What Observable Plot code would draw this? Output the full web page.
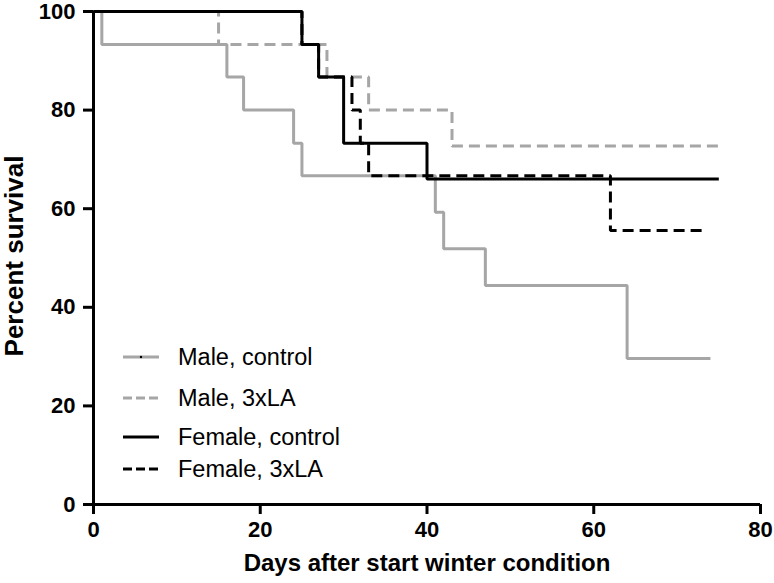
<!DOCTYPE html>
<html><head><meta charset="utf-8">
<script src="https://cdn.jsdelivr.net/npm/d3@7"></script>
<script src="https://cdn.jsdelivr.net/npm/@observablehq/plot@0.6"></script>
<style>
html,body{margin:0;padding:0;background:#fff;}
#chart{position:relative;width:774px;height:583px;}
#legend{position:absolute;left:0;top:0;pointer-events:none;}
</style></head><body><div id="chart"></div>
<script>
// Series definitions
const seriesNames = ["Male, control", "Male, 3xLA", "Female, control", "Female, 3xLA"];
const seriesColors = ["#a6a6a6", "#a6a6a6", "#000000", "#000000"];
const seriesDash = [null, "11,6", null, "11,6"];

// Kaplan-Meier steps (day, percent survival)
const maleControlDays = [0, 1, 16, 18, 24, 25, 41, 42, 47, 64, 74];
const maleControlSurv = [100, 93.3, 86.7, 80, 73.3, 66.7, 59.3, 51.9, 44.4, 29.6, 29.6];
const male3xLADays = [0, 15, 28, 33, 43, 75];
const male3xLASurv = [100, 93.3, 86.7, 80, 72.7, 72.7];
const femaleControlDays = [0, 25, 27, 30, 40, 75];
const femaleControlSurv = [100, 93.3, 86.7, 73.3, 66, 66];
const female3xLADays = [0, 25, 27, 31, 32, 33, 62, 73];
const female3xLASurv = [100, 93.3, 86.7, 80, 73.3, 66.7, 55.6, 55.6];

const xTicks = [0, 20, 40, 60, 80];
const yTicks = [0, 20, 40, 60, 80, 100];
const xTitle = "Days after start winter condition";
const yTitle = "Percent survival";

const allDays = [maleControlDays, male3xLADays, femaleControlDays, female3xLADays];
const allSurv = [maleControlSurv, male3xLASurv, femaleControlSurv, female3xLASurv];

const FONT = "'Liberation Sans', Arial, Helvetica, sans-serif";
const TICKFONT = "'Liberation Sans Narrow', 'Arial Narrow', 'Liberation Sans', Arial, sans-serif";

const lineMarks = seriesNames.map((name, i) => {
  const data = allDays[i].map((d, j) => ({series: name, day: d, surv: allSurv[i][j]}));
  return Plot.line(data, {
    x: "day", y: "surv", curve: "step-after",
    stroke: seriesColors[i], strokeWidth: 3,
    strokeDasharray: seriesDash[i] || undefined,
    strokeLinejoin: "miter", strokeLinecap: "butt"
  });
});

const chart = Plot.plot({
  width: 774, height: 583,
  marginLeft: 93, marginRight: 14, marginTop: 11, marginBottom: 79,
  x: {domain: [0, 80]},
  y: {domain: [0, 100]},
  style: {fontFamily: FONT, fontWeight: "bold", fontSize: "19px", color: "#000", background: "#fff", overflow: "visible"},
  marks: [
    ...lineMarks,
    Plot.ruleX([0], {strokeWidth: 3, stroke: "#000"}),
    Plot.ruleY([0], {strokeWidth: 3, stroke: "#000"}),
    Plot.axisX({ticks: xTicks, tickSize: 10, tickPadding: 7, fontSize: 22, fontWeight: "bold", strokeWidth: 3, label: null, fill: "#000"}),
    Plot.axisY({ticks: yTicks, tickSize: 10, tickPadding: 8, fontSize: 22, fontWeight: "bold", strokeWidth: 3, label: null, fill: "#000"}),
    Plot.text([xTitle], {text: d => d, frameAnchor: "bottom", textAnchor: "middle", lineAnchor: "middle", dy: 59, fontSize: 24, fontWeight: "bold", fill: "#000"}),
    Plot.text([yTitle], {text: d => d, frameAnchor: "left", textAnchor: "middle", lineAnchor: "middle", dx: -79, dy: -2, rotate: -90, fontSize: 26, fontWeight: "bold", fill: "#000"})
  ]
});
document.getElementById("chart").appendChild(chart);
d3.select(chart).selectAll("text")
  .filter(function () { return /^\d+$/.test(this.textContent.trim()); })
  .style("font-size", "22px").style("font-weight", "bold").style("font-family", TICKFONT);

// Legend overlay inside the plot area
const legendRowsY = [357, 398, 437, 469];
const ns = "http://www.w3.org/2000/svg";
const leg = document.createElementNS(ns, "svg");
leg.setAttribute("id", "legend");
leg.setAttribute("width", 774);
leg.setAttribute("height", 583);
seriesNames.forEach((name, i) => {
  const y = legendRowsY[i];
  const ln = document.createElementNS(ns, "line");
  ln.setAttribute("x1", 123); ln.setAttribute("x2", 159);
  ln.setAttribute("y1", y); ln.setAttribute("y2", y);
  ln.setAttribute("stroke", seriesColors[i]);
  ln.setAttribute("stroke-width", 3);
  if (seriesDash[i]) ln.setAttribute("stroke-dasharray", "9,4");
  leg.appendChild(ln);
  if (i === 0) {
    const dot = document.createElementNS(ns, "circle");
    dot.setAttribute("cx", 141); dot.setAttribute("cy", y); dot.setAttribute("r", 1.2);
    dot.setAttribute("fill", "#000");
    leg.appendChild(dot);
  }
  const t = document.createElementNS(ns, "text");
  t.setAttribute("x", 178); t.setAttribute("y", y);
  t.setAttribute("dy", "0.35em");
  t.setAttribute("font-family", FONT);
  t.setAttribute("font-size", 23.5);
  t.setAttribute("fill", "#000");
  t.textContent = name;
  leg.appendChild(t);
});
document.getElementById("chart").appendChild(leg);
</script>
</body></html>
